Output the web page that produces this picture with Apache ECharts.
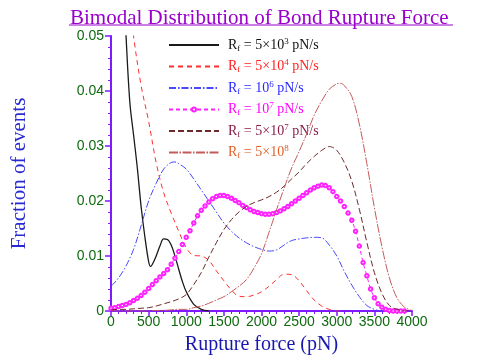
<!DOCTYPE html>
<html>
<head>
<meta charset="utf-8">
<script src="https://cdn.jsdelivr.net/npm/echarts@6/dist/echarts.min.js"></script>
<style>html,body{margin:0;padding:0;background:#fff}#c{width:480px;height:360px}</style>
</head>
<body>
<div id="c"></div>
<script>
// ---- data ----
var seriesNames = ['Rf = 5x10^3 pN/s', 'Rf = 5x10^4 pN/s', 'Rf = 10^6 pN/s', 'Rf = 10^7 pN/s', 'Rf = 5x10^7 pN/s', 'Rf = 5x10^8'];
var legendRich = ['{a|R}{s|f}{r| = 5×10}{p|3}{r| pN/s}', '{a|R}{s|f}{r| = 5×10}{p|4}{r| pN/s}', '{a|R}{s|f}{r| = 10}{p|6}{r| pN/s}', '{a|R}{s|f}{r| = 10}{p|7}{r| pN/s}', '{a|R}{s|f}{r| = 5×10}{p|7}{r| pN/s}', '{a|R}{s|f}{r| = 5×10}{p|8}'];
var xTicks = [0, 500, 1000, 1500, 2000, 2500, 3000, 3500, 4000];
var yTicks = [0, 0.01, 0.02, 0.03, 0.04, 0.05];

var forceA = [150, 200, 250, 300, 350, 400, 450, 500, 525, 550, 600, 650, 700, 750, 800, 850, 900, 950, 1000, 1100, 1200, 1300];
var valA = [0.065, 0.050, 0.038, 0.032, 0.026, 0.019, 0.0135, 0.0090, 0.0081, 0.0085, 0.0100, 0.0118, 0.0131, 0.0130, 0.0120, 0.0100, 0.0076, 0.0053, 0.0035, 0.0012, 0.0003, 0.0];

var forceB = [250, 300, 400, 500, 600, 700, 800, 900, 1000, 1100, 1200, 1300, 1400, 1500, 1600, 1700, 1800, 1900, 2000, 2100, 2200, 2300, 2400, 2500, 2600, 2700, 2800, 2900, 3000, 3100];
var valB = [0.057, 0.050, 0.041, 0.0345, 0.027, 0.0215, 0.0178, 0.0145, 0.0115, 0.0101, 0.0100, 0.0092, 0.0073, 0.0055, 0.0038, 0.0027, 0.0026, 0.0029, 0.0035, 0.0045, 0.0057, 0.0067, 0.0066, 0.0055, 0.0037, 0.0020, 0.0009, 0.0003, 0.0, 0.0];

var forceC = [0, 100, 200, 300, 400, 500, 600, 700, 800, 850, 900, 1000, 1100, 1200, 1300, 1400, 1500, 1600, 1700, 1800, 1900, 2000, 2100, 2200, 2300, 2400, 2500, 2600, 2700, 2800, 2900, 3000, 3100, 3200, 3300, 3400, 3500, 3600, 3700];
var valC = [0.0045, 0.0060, 0.0082, 0.0112, 0.0155, 0.0200, 0.0232, 0.0258, 0.0270, 0.0271, 0.0268, 0.0258, 0.0240, 0.0220, 0.0200, 0.0180, 0.0160, 0.0145, 0.0133, 0.0124, 0.0117, 0.0112, 0.0109, 0.0111, 0.0120, 0.0128, 0.0131, 0.0133, 0.0134, 0.0133, 0.0120, 0.0100, 0.0072, 0.0047, 0.0026, 0.0010, 0.0003, 0.0, 0.0];

var forceD = [0, 50, 100, 150, 200, 250, 300, 350, 400, 450, 500, 550, 600, 650, 700, 750, 800, 850, 900, 950, 1000, 1050, 1100, 1150, 1200, 1250, 1300, 1350, 1400, 1450, 1500, 1550, 1600, 1650, 1700, 1750, 1800, 1850, 1900, 1950, 2000, 2050, 2100, 2150, 2200, 2250, 2300, 2350, 2400, 2450, 2500, 2550, 2600, 2650, 2700, 2750, 2800, 2850, 2900, 2950, 3000, 3050, 3100, 3150, 3200, 3250, 3300, 3350, 3400, 3450, 3500, 3550, 3600, 3650, 3700, 3750, 3800, 3850, 3900];
var valD = [0.0005, 0.0006, 0.0008, 0.0010, 0.0012, 0.0015, 0.0019, 0.0023, 0.0028, 0.0034, 0.0041, 0.0048, 0.0055, 0.0062, 0.0068, 0.0075, 0.0085, 0.0096, 0.0108, 0.0121, 0.0134, 0.0146, 0.0160, 0.0173, 0.0183, 0.0191, 0.0198, 0.0204, 0.0208, 0.0210, 0.0210, 0.0208, 0.0205, 0.0201, 0.0197, 0.0192, 0.0188, 0.0184, 0.0181, 0.0179, 0.0177, 0.0176, 0.0176, 0.0177, 0.0179, 0.0182, 0.0186, 0.0190, 0.0195, 0.0200, 0.0205, 0.0210, 0.0215, 0.0220, 0.0224, 0.0227, 0.0229, 0.0228, 0.0224, 0.0217, 0.0208, 0.0200, 0.0190, 0.0178, 0.0165, 0.0145, 0.0118, 0.0088, 0.0064, 0.0040, 0.0024, 0.0013, 0.0007, 0.0003, 0.0001, 0.0, 0.0, 0.0, 0.0];

var forceE = [0, 100, 200, 300, 400, 500, 600, 700, 800, 900, 1000, 1100, 1200, 1300, 1400, 1500, 1600, 1700, 1800, 1900, 2000, 2100, 2200, 2300, 2400, 2500, 2600, 2700, 2800, 2900, 3000, 3100, 3200, 3300, 3400, 3500, 3600, 3700, 3800, 3900, 4000];
var valE = [0.0002, 0.0003, 0.0003, 0.0004, 0.0005, 0.0006, 0.0009, 0.0013, 0.0017, 0.0022, 0.0030, 0.0048, 0.0070, 0.0098, 0.0124, 0.0148, 0.0166, 0.0180, 0.0190, 0.0197, 0.0202, 0.0208, 0.0216, 0.0227, 0.0240, 0.0253, 0.0268, 0.0281, 0.0292, 0.0299, 0.0292, 0.0270, 0.0236, 0.0185, 0.0125, 0.0070, 0.0032, 0.0010, 0.0003, 0.0, 0.0];

var forceF = [0, 100, 200, 300, 400, 500, 600, 700, 800, 900, 1000, 1100, 1200, 1300, 1400, 1500, 1600, 1700, 1800, 1900, 2000, 2100, 2200, 2300, 2400, 2500, 2600, 2700, 2800, 2900, 3000, 3050, 3100, 3200, 3300, 3400, 3500, 3600, 3700, 3800, 3900, 4000];
var valF = [0.0, 0.0, 0.0, 0.0, 0.0, 0.0, 0.0001, 0.0001, 0.0002, 0.0003, 0.0003, 0.0006, 0.0009, 0.0014, 0.0020, 0.0026, 0.0035, 0.0045, 0.0057, 0.0078, 0.0104, 0.0143, 0.0184, 0.0223, 0.0260, 0.0290, 0.0322, 0.0356, 0.0382, 0.0403, 0.0413, 0.0414, 0.0410, 0.0390, 0.0340, 0.0268, 0.0188, 0.0117, 0.0060, 0.0024, 0.0007, 0.0001];

function pairs(xs, ys) { return xs.map(function (x, i) { return [x, ys[i]]; }); }

var lineColors = ['#1a1a1a', '#ff3030', '#4848ff', '#ff22ff', '#6e2a2a', '#c45a5a'];
var textColors = ['#111111', '#ff2020', '#2828ff', '#ff00ff', '#8a1c48', '#e0602a'];
var dashes = ['solid', [5, 4], [7, 2, 1.5, 2], [4, 3], [6, 3], [9, 1.5, 1.5, 1.5]];
var allX = [forceA, forceB, forceC, forceD, forceE, forceF];
var allY = [valA, valB, valC, valD, valE, valF];

var chart = echarts.init(document.getElementById('c'));
var series = seriesNames.map(function (n, i) {
  return {
    name: n, type: 'line', data: pairs(allX[i], allY[i]),
    smooth: 0.35, clip: true,
    showSymbol: i === 3, symbol: i === 3 ? 'emptyCircle' : 'none', symbolSize: 3.5,
    itemStyle: { color: lineColors[i], borderWidth: 0.8 },
    lineStyle: { color: lineColors[i], width: i === 0 ? 1.3 : 1, type: dashes[i] },
    emphasis: { disabled: true }, animation: false, z: 2 + i
  };
});

var richMap = {};
seriesNames.forEach(function (n, i) { richMap[n] = legendRich[i]; });

chart.setOption({
  animation: false,
  title: {
    text: 'Bimodal Distribution of Bond Rupture Force', left: 65, top: 3,
    textStyle: { fontFamily: 'Liberation Serif', fontSize: 21, fontWeight: 'normal', color: '#9900cc' }
  },
  graphic: [{ type: 'line', shape: { x1: 69, y1: 25, x2: 453, y2: 25 }, style: { stroke: '#9900cc', lineWidth: 1 } }],
  grid: { left: 111, right: 68, top: 36, bottom: 48 },
  legend: {
    orient: 'vertical', left: 163, top: 32, itemWidth: 50, itemHeight: 5, itemGap: 5.5,
    selectedMode: false,
    data: seriesNames.map(function (n, i) {
      return { name: n, textStyle: { color: textColors[i] }, itemStyle: i === 3 ? { borderWidth: 1 } : { opacity: 0 } };
    }),
    formatter: function (n) { return richMap[n]; },
    textStyle: {
      fontFamily: 'Liberation Serif', fontSize: 14,
      rich: {
        a: { fontFamily: 'Liberation Serif', fontSize: 14, lineHeight: 16, padding: [0, 0, 0, 4] },
        r: { fontFamily: 'Liberation Serif', fontSize: 14, lineHeight: 16 },
        s: { fontFamily: 'Liberation Serif', fontSize: 9, lineHeight: 16, verticalAlign: 'bottom', padding: [6, 0, 0, 0] },
        p: { fontFamily: 'Liberation Serif', fontSize: 9, lineHeight: 16, verticalAlign: 'top', padding: [0, 0, 6, 0] }
      }
    }
  },
  xAxis: {
    type: 'value', min: xTicks[0], max: xTicks[xTicks.length - 1], interval: 500,
    name: 'Rupture force (pN)', nameLocation: 'middle', nameGap: 24,
    nameTextStyle: { fontFamily: 'Liberation Serif', fontSize: 20, color: '#1818b0' },
    axisLine: { show: true, lineStyle: { color: '#7f1aff', width: 2 } },
    axisTick: { show: true, length: 5, lineStyle: { color: '#7f1aff', width: 1.5 } },
    minorTick: { show: true, splitNumber: 5, length: 3, lineStyle: { color: '#7f1aff', width: 1 } },
    splitLine: { show: false },
    axisLabel: { fontFamily: 'Liberation Sans', fontSize: 14, color: '#0f6a0f', margin: 4,
      formatter: function (v) { return String(v); } }
  },
  yAxis: {
    type: 'value', min: yTicks[0], max: yTicks[yTicks.length - 1], interval: 0.01,
    name: 'Fraction of events', nameLocation: 'middle', nameGap: 81, nameRotate: 90,
    nameTextStyle: { fontFamily: 'Liberation Serif', fontSize: 21, color: '#2a2ad4' },
    axisLine: { show: true, lineStyle: { color: '#7f1aff', width: 2 } },
    axisTick: { show: true, length: 6, lineStyle: { color: '#7f1aff', width: 1.5 } },
    minorTick: { show: true, splitNumber: 5, length: 3, lineStyle: { color: '#7f1aff', width: 1 } },
    splitLine: { show: false },
    axisLabel: { fontFamily: 'Liberation Sans', fontSize: 14, color: '#0f6a0f', margin: 7,
      formatter: function (v) { return v === 0 ? '0' : v.toFixed(2); } }
  },
  series: series
});
</script>
</body>
</html>
